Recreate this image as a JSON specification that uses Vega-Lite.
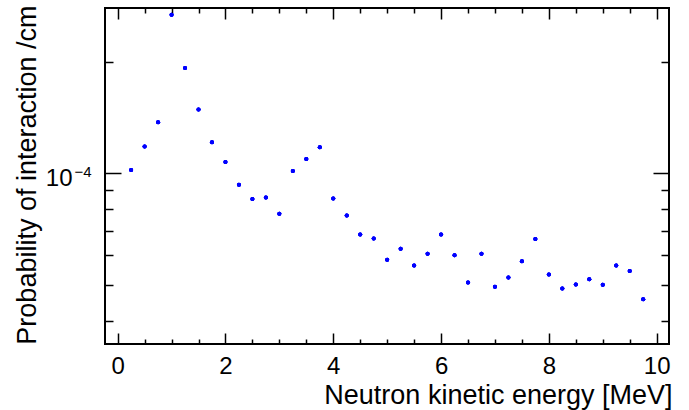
{
  "$schema": "https://vega.github.io/schema/vega-lite/v6.json",
  "width": 564,
  "height": 336,
  "autosize": "none",
  "padding": {"left": 105, "top": 8, "right": 20, "bottom": 66},
  "config": {
    "view": {"stroke": "black", "strokeWidth": 2},
    "axis": {
      "grid": false,
      "domain": false,
      "labelFont": "Liberation Sans",
      "titleFont": "Liberation Sans",
      "labelColor": "black",
      "titleColor": "black",
      "tickColor": "black",
      "titleFontWeight": "normal",
      "labelFontWeight": "normal",
      "tickWidth": 1.5
    }
  },
  "data": {
    "values": [
      {"E": 0.25, "p": 1.019e-4},
      {"E": 0.5, "p": 1.180e-4},
      {"E": 0.75, "p": 1.372e-4},
      {"E": 1.0, "p": 2.677e-4},
      {"E": 1.25, "p": 1.922e-4},
      {"E": 1.5, "p": 1.484e-4},
      {"E": 1.75, "p": 1.212e-4},
      {"E": 2.0, "p": 1.071e-4},
      {"E": 2.25, "p": 0.930e-4},
      {"E": 2.5, "p": 0.851e-4},
      {"E": 2.75, "p": 0.860e-4},
      {"E": 3.0, "p": 0.777e-4},
      {"E": 3.25, "p": 1.014e-4},
      {"E": 3.5, "p": 1.091e-4},
      {"E": 3.75, "p": 1.175e-4},
      {"E": 4.0, "p": 0.854e-4},
      {"E": 4.25, "p": 0.769e-4},
      {"E": 4.5, "p": 0.683e-4},
      {"E": 4.75, "p": 0.666e-4},
      {"E": 5.0, "p": 0.584e-4},
      {"E": 5.25, "p": 0.625e-4},
      {"E": 5.5, "p": 0.563e-4},
      {"E": 5.75, "p": 0.606e-4},
      {"E": 6.0, "p": 0.683e-4},
      {"E": 6.25, "p": 0.600e-4},
      {"E": 6.5, "p": 0.507e-4},
      {"E": 6.75, "p": 0.606e-4},
      {"E": 7.0, "p": 0.494e-4},
      {"E": 7.25, "p": 0.523e-4},
      {"E": 7.5, "p": 0.578e-4},
      {"E": 7.75, "p": 0.664e-4},
      {"E": 8.0, "p": 0.533e-4},
      {"E": 8.25, "p": 0.488e-4},
      {"E": 8.5, "p": 0.501e-4},
      {"E": 8.75, "p": 0.517e-4},
      {"E": 9.0, "p": 0.500e-4},
      {"E": 9.25, "p": 0.563e-4},
      {"E": 9.5, "p": 0.544e-4},
      {"E": 9.75, "p": 0.457e-4}
    ]
  },
  "resolve": {"axis": {"x": "independent", "y": "independent"}},
  "layer": [
    {
      "mark": {"type": "point", "filled": true, "color": "#0000ff", "opacity": 1, "size": 16},
      "encoding": {
        "x": {
          "field": "E", "type": "quantitative",
          "scale": {"domain": [-0.235, 10.229], "nice": false, "zero": false},
          "axis": {
            "orient": "bottom",
            "values": [0, 2, 4, 6, 8, 10],
            "ticks": false,
            "labelFontSize": 24,
            "labelBaseline": "top",
            "labelPadding": 10,
            "labelFlush": false,
            "title": "Neutron kinetic energy [MeV]",
            "titleFontSize": 27,
            "titleAlign": "right",
            "titleBaseline": "alphabetic",
            "titleX": 567,
            "titleY": 59
          }
        },
        "y": {
          "field": "p", "type": "quantitative",
          "scale": {"type": "log", "domain": [3.459e-5, 2.79e-4], "nice": false},
          "axis": {
            "orient": "left",
            "values": [0.0001],
            "ticks": false,
            "labelExpr": "'10'",
            "labelFontSize": 24,
            "labelAlign": "right",
            "labelBaseline": "alphabetic",
            "labelPadding": 33,
            "labelOffset": 12,
            "labelFlush": false,
            "title": "Probability of interaction /cm",
            "titleFontSize": 27,
            "titleAngle": -90,
            "titleAlign": "right",
            "titleBaseline": "alphabetic",
            "titleX": -70,
            "titleY": -3
          }
        }
      }
    },
    {
      "mark": {"type": "point", "filled": true, "color": "#0000ff", "opacity": 1, "size": 16},
      "encoding": {
        "x": {
          "field": "E", "type": "quantitative",
          "axis": {
            "orient": "bottom",
            "values": [0, 0.5, 1, 1.5, 2, 2.5, 3, 3.5, 4, 4.5, 5, 5.5, 6, 6.5, 7, 7.5, 8, 8.5, 9, 9.5, 10],
            "labels": false,
            "title": null,
            "tickSize": {"condition": {"test": "datum.value % 2 === 0", "value": -11}, "value": -5}
          }
        },
        "y": {
          "field": "p", "type": "quantitative",
          "axis": {
            "orient": "left",
            "values": [0.00004, 0.00005, 0.00006, 0.00007, 0.00008, 0.00009, 0.0001, 0.0002],
            "labels": false,
            "title": null,
            "tickSize": {"condition": {"test": "datum.value === 0.0001", "value": -16}, "value": -8}
          }
        }
      }
    },
    {
      "mark": {"type": "point", "filled": true, "color": "#0000ff", "opacity": 1, "size": 16},
      "encoding": {
        "x": {
          "field": "E", "type": "quantitative",
          "axis": {
            "orient": "top",
            "values": [0, 0.5, 1, 1.5, 2, 2.5, 3, 3.5, 4, 4.5, 5, 5.5, 6, 6.5, 7, 7.5, 8, 8.5, 9, 9.5, 10],
            "labels": false,
            "title": null,
            "tickSize": {"condition": {"test": "datum.value % 2 === 0", "value": -11}, "value": -5}
          }
        },
        "y": {
          "field": "p", "type": "quantitative",
          "axis": {
            "orient": "right",
            "values": [0.00004, 0.00005, 0.00006, 0.00007, 0.00008, 0.00009, 0.0001, 0.0002],
            "labels": false,
            "title": null,
            "tickSize": {"condition": {"test": "datum.value === 0.0001", "value": -16}, "value": -8}
          }
        }
      }
    },
    {
      "mark": {"type": "point", "filled": true, "color": "#0000ff", "opacity": 1, "size": 16},
      "encoding": {
        "x": {"field": "E", "type": "quantitative", "axis": null},
        "y": {
          "field": "p", "type": "quantitative",
          "axis": {
            "orient": "left",
            "values": [0.0001],
            "ticks": false,
            "labelExpr": "'−4'",
            "labelFontSize": 15,
            "labelAlign": "right",
            "labelBaseline": "alphabetic",
            "labelPadding": 14,
            "labelOffset": 3,
            "labelFlush": false,
            "title": null
          }
        }
      }
    }
  ]
}
